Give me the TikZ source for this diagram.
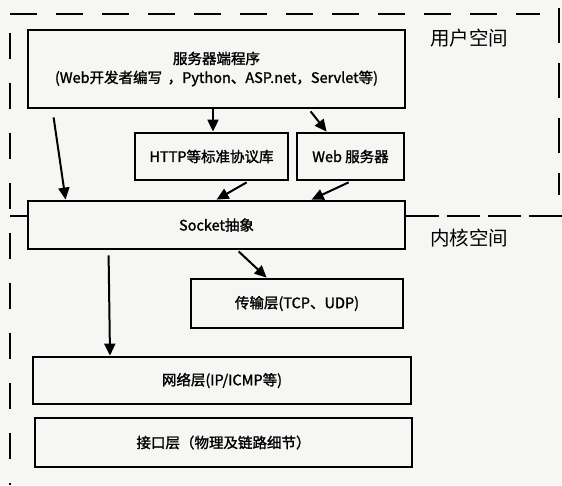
\documentclass[tikz,border=0pt]{standalone}
\usepackage{fontspec}
\setmainfont{Noto Sans CJK SC}[FakeBold=1.5]
\newfontfamily\spacefont{Noto Sans CJK SC}
\usetikzlibrary{arrows.meta,calc}
\definecolor{paper}{RGB}{246,246,244}
\begin{document}
\begin{tikzpicture}[x=1pt,y=-1pt,
  box/.style={draw,line width=2.8pt,rectangle,inner sep=0pt,font=\fontsize{14.5}{19}\selectfont,align=center},
  arr/.style={line width=2pt,-{Triangle[length=12pt,width=11pt]}},
  divider/.style={line width=2.8pt},
  space/.style={font=\spacefont\fontsize{19.5}{22}\selectfont,anchor=center}]
\fill[paper] (0,0) rectangle (562,485);
\useasboundingbox (0,0) rectangle (562,485);
% dashed frame lines
\draw[divider,dash pattern=on 27pt off 19pt] (10,14) -- (540,14);
\draw[divider,dash pattern=on 26pt off 24pt] (10,33) -- (10,485);
\draw[divider,dash pattern=on 35pt off 20pt] (559,8) -- (559,195);
% boxes
\node[box,minimum width=377pt,minimum height=78pt] (main) at (216.5,69)
  {服务器端程序\\(Web开发者编写 \,，Python、ASP.net，Servlet等)};
\node[box,minimum width=153pt,minimum height=47pt] (http) at (211.5,156.5) {HTTP等标准协议库};
\node[box,minimum width=107pt,minimum height=47pt] (web) at (350.5,156.5) {Web 服务器};
\node[box,minimum width=377pt,minimum height=48pt] (sock) at (216.5,225) {Socket抽象};
\node[box,minimum width=212pt,minimum height=49pt] (trans) at (297,303.5) {传输层(TCP、UDP)};
\node[box,minimum width=378pt,minimum height=47pt] (net) at (222,380.5) {网络层(IP/ICMP等)};
\node[box,minimum width=377pt,minimum height=49pt] (iface) at (223.5,442.5) {接口层（物理及链路细节）};
% user/kernel divider
\coordinate (lw) at (10,216);
\coordinate (re) at (562,216);
\draw[divider] (lw) -- (sock.west |- lw);
\draw[divider,dash pattern=on 33pt off 8pt] (sock.east |- re) -- (re);
% space labels
\node[space] (user) at (469,38) {用户空间};
\node[space] (kern) at (469,238) {内核空间};
% arrows
\draw[arr] ($(main.south west)+(27,8)$) -- ($(sock.north west)+(39,0)$);
\draw[arr] (main.south -| 213,0) -- (http.north -| 213,0);
\draw[arr] ($(main.south west)+(284,2)$) -- ($(web.north west)+(31,0)$);
\draw[arr] ($(http.south west)+(113,1)$) -- ($(sock.north west)+(190,0)$);
\draw[arr] ($(web.south west)+(53,1)$) -- ($(sock.north west)+(285,0)$);
\draw[arr] ($(sock.south west)+(212,1)$) -- ($(trans.north west)+(77,0)$);
\draw[arr] ($(sock.south west)+(82,5)$) -- (net.north -| 110,0);
\end{tikzpicture}
\end{document}
